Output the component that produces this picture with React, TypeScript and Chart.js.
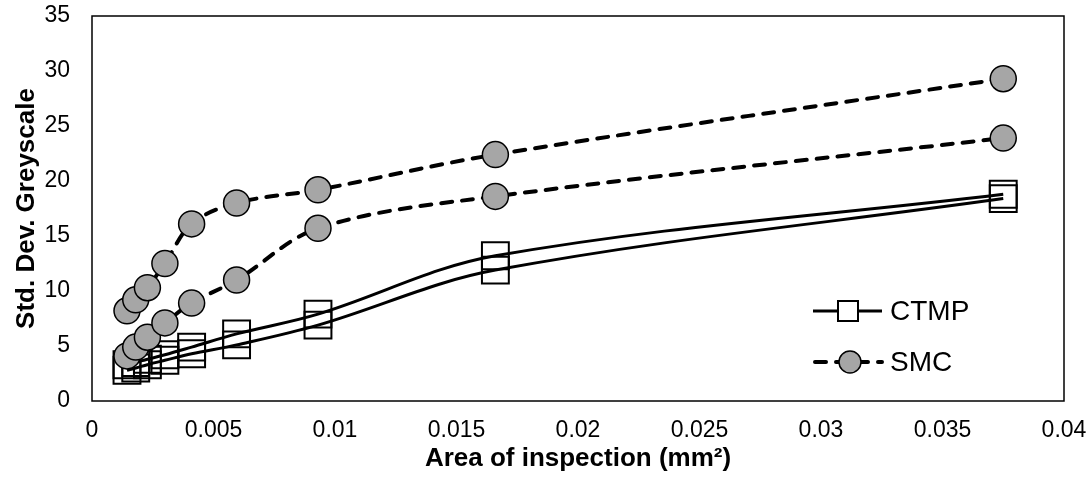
import React, { useEffect, useRef } from "react";
import { Chart, registerables } from "chart.js";

Chart.register(...registerables);

// Area of inspection (mm²)
const areas = [0.00144, 0.0018, 0.00228, 0.003, 0.0041, 0.00595, 0.0093, 0.0166, 0.0375];
// Std. Dev. Greyscale
const ctmpUpper = [3.3, 3.5, 3.8, 4.2, 4.9, 6.1, 7.9, 13.2, 18.8];
const ctmpLower = [2.8, 3.0, 3.3, 3.7, 4.3, 5.1, 6.9, 11.9, 18.4];
const smcUpper = [8.2, 9.2, 10.3, 12.5, 16.1, 18.0, 19.2, 22.4, 29.3];
const smcLower = [4.1, 4.9, 5.8, 7.1, 8.9, 11.0, 15.7, 18.6, 23.9];

const legendLabels = ["CTMP", "SMC"];
const xTitle = "Area of inspection (mm²)";
const yTitle = "Std. Dev. Greyscale";
const xMin = 0;
const xMax = 0.04;
const xStep = 0.005;
const yMin = 0;
const yMax = 35;
const yStep = 5;

const FONT = "'Liberation Sans', Arial, sans-serif";
const GREY = "#A6A6A6";
const DASH = [11, 10];

const toPoints = (ys: number[]) => areas.map((x, i) => ({ x, y: ys[i] }));

const framePlugin = {
  id: "frame",
  beforeDatasetsDraw(chart: any) {
    const { ctx, chartArea: a } = chart;
    ctx.save();
    ctx.strokeStyle = "#000";
    ctx.lineWidth = 1.5;
    ctx.strokeRect(a.left, a.top, a.right - a.left, a.bottom - a.top);
    ctx.restore();
  },
};

const legendPlugin = {
  id: "customLegend",
  afterDraw(chart: any) {
    const { ctx, chartArea: a } = chart;
    const x0 = a.left + 721;
    const x1 = x0 + 69;
    const mx = x0 + 35;
    const tx = x1 + 8;
    const y1 = a.top + 295;
    const y2 = a.top + 346;
    ctx.save();
    // CTMP
    ctx.strokeStyle = "#000";
    ctx.lineWidth = 3;
    ctx.lineCap = "butt";
    ctx.beginPath();
    ctx.moveTo(x0, y1);
    ctx.lineTo(x1, y1);
    ctx.stroke();
    ctx.fillStyle = "#fff";
    ctx.fillRect(mx - 10, y1 - 10, 20, 20);
    ctx.lineWidth = 2;
    ctx.strokeRect(mx - 10, y1 - 10, 20, 20);
    // SMC
    ctx.lineWidth = 4;
    ctx.lineCap = "round";
    ctx.setLineDash(DASH);
    ctx.beginPath();
    ctx.moveTo(x0 + 2, y2);
    ctx.lineTo(x1, y2);
    ctx.stroke();
    ctx.setLineDash([]);
    ctx.beginPath();
    ctx.arc(mx + 2, y2, 11, 0, Math.PI * 2);
    ctx.fillStyle = GREY;
    ctx.fill();
    ctx.lineWidth = 1.5;
    ctx.stroke();
    // text
    ctx.fillStyle = "#000";
    ctx.font = `28px ${FONT}`;
    ctx.textBaseline = "middle";
    ctx.textAlign = "left";
    ctx.fillText(legendLabels[0], tx, y1 + 1);
    ctx.fillText(legendLabels[1], tx, y2 + 1);
    ctx.restore();
  },
};

export default function App() {
  const ref = useRef<HTMLCanvasElement | null>(null);

  useEffect(() => {
    document.body.style.margin = "0";
    const canvas = ref.current;
    if (!canvas) return;

    const ctmpStyle = {
      borderColor: "#000",
      borderWidth: 3,
      pointStyle: "rect",
      pointRadius: 19,
      pointBorderWidth: 2,
      pointBorderColor: "#000",
      pointBackgroundColor: "rgba(0,0,0,0)",
      tension: 0.35,
      fill: false,
      order: 1,
    };
    const smcStyle = {
      borderColor: "#000",
      borderWidth: 4,
      borderDash: DASH,
      borderCapStyle: "round",
      pointStyle: "circle",
      pointRadius: 13,
      pointBorderWidth: 1.5,
      pointBorderColor: "#000",
      pointBackgroundColor: GREY,
      tension: 0.35,
      fill: false,
      order: 0,
    };

    const chart = new Chart(canvas, {
      type: "line",
      data: {
        datasets: [
          { label: legendLabels[0], data: toPoints(ctmpUpper), ...ctmpStyle } as any,
          { label: legendLabels[0], data: toPoints(ctmpLower), ...ctmpStyle } as any,
          { label: legendLabels[1], data: toPoints(smcUpper), ...smcStyle } as any,
          { label: legendLabels[1], data: toPoints(smcLower), ...smcStyle } as any,
        ],
      },
      options: {
        responsive: false,
        animation: false,
        events: [],
        layout: { padding: 0, autoPadding: false },
        plugins: {
          legend: { display: false },
          tooltip: { enabled: false },
        },
        scales: {
          x: {
            type: "linear",
            min: xMin,
            max: xMax,
            grid: { display: false },
            border: { display: false },
            ticks: {
              stepSize: xStep,
              color: "#000",
              padding: 8,
              font: { family: FONT, size: 23 },
              maxRotation: 0,
              autoSkip: false,
              callback: (v: any) => String(Number(Number(v).toFixed(3))),
            },
            title: {
              display: true,
              text: xTitle,
              color: "#000",
              font: { family: FONT, size: 26, weight: "bold" },
              padding: { top: 0, bottom: 6 },
            },
            afterFit: (s: any) => {
              s.height = 79;
              s.paddingLeft = 0;
              s.paddingRight = 26;
            },
          },
          y: {
            min: yMin,
            max: yMax,
            grid: { display: false },
            border: { display: false },
            ticks: {
              stepSize: yStep,
              color: "#000",
              padding: 14,
              font: { family: FONT, size: 23 },
            },
            title: {
              display: true,
              text: yTitle,
              color: "#000",
              font: { family: FONT, size: 26, weight: "bold" },
              padding: { top: 11, bottom: 0 },
            },
            afterFit: (s: any) => {
              s.width = 92;
              s.paddingTop = 16;
              s.paddingBottom = 0;
            },
          },
        },
      },
      plugins: [framePlugin, legendPlugin],
    });

    return () => chart.destroy();
  }, []);

  return (
    <div style={{ width: 1090, height: 480 }}>
      <canvas ref={ref} width={1090} height={480} style={{ width: 1090, height: 480, display: "block" }} />
    </div>
  );
}
